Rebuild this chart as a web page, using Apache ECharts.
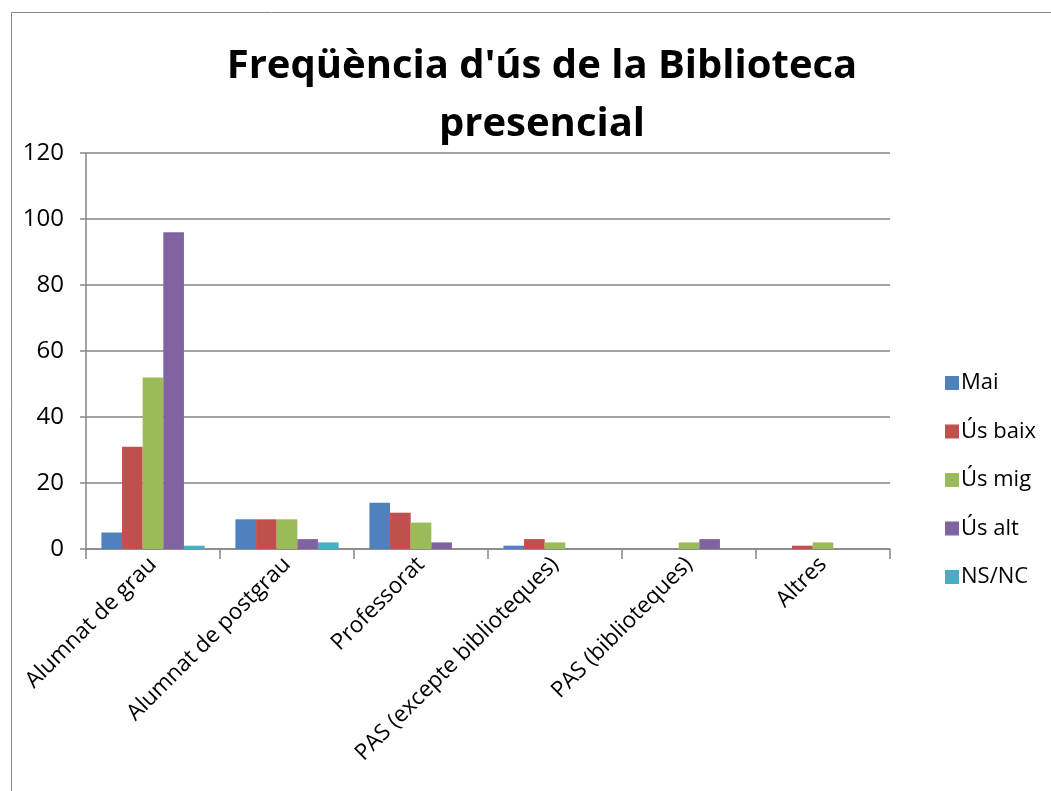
<!DOCTYPE html>
<html lang="ca">
<head>
<meta charset="UTF-8">
<title>Freqüència d'ús de la Biblioteca presencial</title>
<script src="https://cdn.jsdelivr.net/npm/echarts@6/dist/echarts.min.js"></script>
<style>
  html, body { margin: 0; padding: 0; background: #fff; }
  #chart { width: 1051px; height: 791px; }
</style>
</head>
<body>
<div id="chart"></div>
<script>
  const categories = ['Alumnat de grau', 'Alumnat de postgrau', 'Professorat',
    'PAS (excepte biblioteques)', 'PAS (biblioteques)', 'Altres'];
  const seriesNames = ['Mai', 'Ús baix', 'Ús mig', 'Ús alt', 'NS/NC'];
  const mai = [5, 9, 14, 1, 0, 0];
  const usBaix = [31, 9, 11, 3, 0, 1];
  const usMig = [52, 9, 8, 2, 2, 2];
  const usAlt = [96, 3, 2, 0, 3, 0];
  const nsnc = [1, 2, 0, 0, 0, 0];
  const colors = ['#4F81BD', '#C0504D', '#9BBB59', '#8064A2', '#4BACC6'];

  const font = '"Open Sans", "Liberation Sans", sans-serif';
  const chart = echarts.init(document.getElementById('chart'));

  const seriesData = [mai, usBaix, usMig, usAlt, nsnc];

  chart.setOption({
    animation: false,
    textStyle: { fontFamily: font },
    title: {
      text: "Freqüència d'ús de la Biblioteca\npresencial",
      left: 537,
      textAlign: 'center',
      top: 33,
      textStyle: { fontSize: 40, fontWeight: 'bold', color: '#000', lineHeight: 58, fontFamily: font }
    },
    graphic: [{
      type: 'rect',
      shape: { x: 11.5, y: 12.5, width: 1100, height: 900 },
      style: { fill: 'none', stroke: '#888', lineWidth: 1 },
      silent: true
    }],
    legend: {
      orient: 'vertical',
      left: 940,
      top: 367,
      itemWidth: 14,
      itemHeight: 14,
      itemGap: 26.5,
      icon: 'rect',
      textStyle: { fontSize: 22, color: '#000', lineHeight: 22, padding: [0, 0, 0, -3] },
      data: seriesNames
    },
    grid: { left: 86, right: 161, top: 153, bottom: 242, containLabel: false },
    xAxis: {
      type: 'category',
      data: categories,
      axisLine: { lineStyle: { color: '#868686', width: 1.5 } },
      axisTick: { show: true, length: 10, lineStyle: { color: '#868686', width: 1.5 } },
      axisLabel: {
        interval: 0,
        rotate: 45,
        fontSize: 22.5,
        color: '#000',
        margin: 12
      }
    },
    yAxis: {
      type: 'value',
      min: 0,
      max: 120,
      interval: 20,
      axisLine: { show: true, lineStyle: { color: '#868686', width: 1.5 } },
      axisTick: { show: true, length: 6, lineStyle: { color: '#868686', width: 1.5 } },
      splitLine: { lineStyle: { color: '#868686', width: 1.5 } },
      axisLabel: { fontSize: 24, color: '#000', margin: 22 }
    },
    series: seriesNames.map((name, i) => ({
      name: name,
      type: 'bar',
      data: seriesData[i],
      barGap: '0%',
      barCategoryGap: '23%',
      itemStyle: { color: colors[i] }
    }))
  });
</script>
</body>
</html>
